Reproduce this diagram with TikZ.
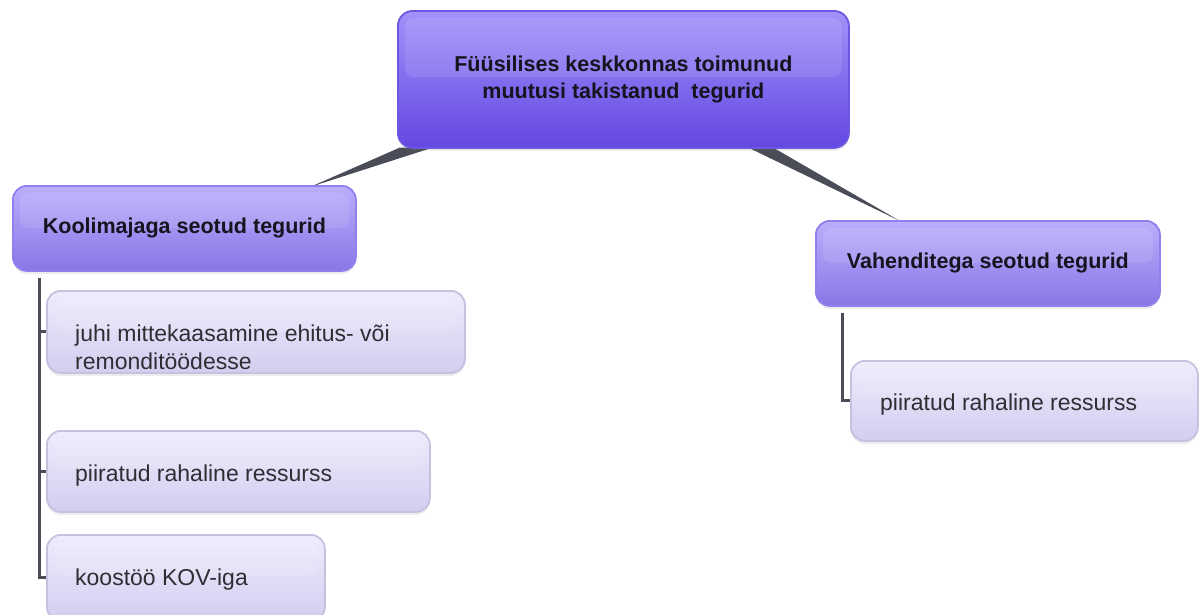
\documentclass[tikz,border=0pt]{standalone}
\usepackage{fontspec}
\setmainfont{Liberation Sans}
\usetikzlibrary{shadows}
\definecolor{rootTop}{HTML}{A292FA}
\definecolor{rootBot}{HTML}{6447E2}
\definecolor{rootBorder}{HTML}{6B58E2}
\definecolor{midTop}{HTML}{BAAEFC}
\definecolor{midBot}{HTML}{8A76E6}
\definecolor{midBorder}{HTML}{907FEC}
\definecolor{leafTop}{HTML}{EFECFD}
\definecolor{leafBot}{HTML}{D3CDEF}
\definecolor{leafBorder}{HTML}{C7C1DF}
\definecolor{connGray}{HTML}{4A4D57}
\definecolor{boldText}{HTML}{16141F}
\definecolor{plainText}{HTML}{2E2E33}
\tikzset{
  band/.style={path picture={\fill[white,opacity=0.10,rounded corners=9pt]
      ([xshift=7pt,yshift=-7pt]path picture bounding box.north west) rectangle
      ([xshift=-7pt,yshift=#1]path picture bounding box.east);}},
  shade/.style={drop shadow={opacity=0.15,shadow xshift=0pt,shadow yshift=-3pt}},
  rootbox/.style={draw=rootBorder, line width=1.8pt, rounded corners=15pt,
    top color=rootTop, bottom color=rootBot, anchor=north west, inner sep=0pt,
    minimum width=451pt, minimum height=137pt, align=center, text=boldText,
    font=\bfseries\fontsize{21.5}{27.5}\selectfont, shade, band=2pt},
  midbox/.style={draw=midBorder, line width=1.8pt, rounded corners=14pt,
    top color=midTop, bottom color=midBot, anchor=north west, inner sep=0pt,
    minimum height=85pt, align=center, text=boldText,
    font=\bfseries\fontsize{21.5}{27.5}\selectfont, shade, band=0pt},
  leafbox/.style={draw=leafBorder, line width=1.8pt, rounded corners=14pt,
    top color=leafTop, bottom color=leafBot, anchor=north west, inner sep=0pt,
    shade, band=2pt},
  leaftext/.style={anchor=base west, inner sep=0pt, align=left, text=plainText,
    font=\fontsize{23}{27.5}\selectfont},
  wedge/.style={fill=connGray},
  treeline/.style={draw=connGray, line width=3pt}
}
\begin{document}
\begin{tikzpicture}[x=1pt,y=-1pt]
\useasboundingbox (0,0) rectangle (1199,614);
% wedges (drawn first, under the boxes)
\coordinate (rootSW) at (397,147);
\coordinate (koolTip) at (310,187);
\coordinate (vahTip) at (900,221);
\fill[wedge] ([shift={(3,0.5)}]rootSW) -- ([shift={(36,0.5)}]rootSW) -- (koolTip) -- cycle;
\fill[wedge] ([shift={(351,0.5)}]rootSW) -- ([shift={(376,0.5)}]rootSW) -- (vahTip) -- cycle;

\node[rootbox] (root) at (397,10) {\raisebox{-3pt}{\begin{tabular}{@{}c@{}}Füüsilises keskkonnas toimunud\\muutusi takistanud\ \ tegurid\end{tabular}}};
\node[midbox, minimum width=343pt] (kool) at (12,185) {\raisebox{-2pt}{Koolimajaga seotud tegurid}};
\node[midbox, minimum width=344pt] (vah) at (815,220) {\raisebox{-2pt}{Vahenditega seotud tegurid}};

% tree lines
\coordinate (koolStem) at ([shift={(27,6)}]kool.south west);
\coordinate (vahStem) at ([shift={(27,6)}]vah.south west);

\node[leafbox, minimum width=418pt, minimum height=82pt] (leafA) at (46,290) {};
\node[leafbox, minimum width=383pt, minimum height=81pt] (leafB) at (46,430) {};
\node[leafbox, minimum width=278pt, minimum height=86pt] (leafC) at (46,534) {};
\node[leafbox, minimum width=347pt, minimum height=80pt] (leafR) at (850,360) {};

\draw[treeline] (koolStem) |- (leafA.west);
\draw[treeline] (koolStem) |- (leafB.west);
\draw[treeline] (koolStem) |- (leafC.west);
\draw[treeline] (vahStem) |- (leafR.west);

\node[leaftext] (tA) at ([shift={(29,79)}]leafA.north west) {juhi mittekaasamine ehitus- või\\remonditöödesse};
\node[leaftext] (tB) at ([shift={(29,51)}]leafB.north west) {piiratud rahaline ressurss};
\node[leaftext] (tC) at ([shift={(29,51)}]leafC.north west) {koostöö KOV-iga};
\node[leaftext] (tR) at ([shift={(30,50)}]leafR.north west) {piiratud rahaline ressurss};
\end{tikzpicture}
\end{document}
